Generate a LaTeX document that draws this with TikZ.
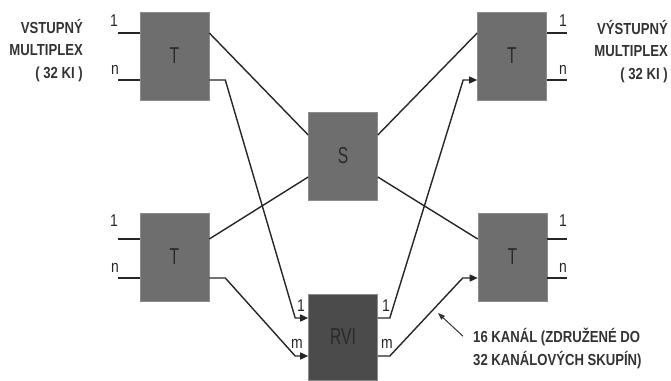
\documentclass[tikz,border=0pt]{standalone}
\usepackage{fontspec}
\usepackage{xcolor}
\usepackage{tikz}
\usetikzlibrary{arrows.meta,positioning}
\setmainfont{Liberation Sans}[FakeStretch=0.82]
\newfontfamily\blockfont{Liberation Sans}[FakeStretch=0.68]
\definecolor{blockgray}{HTML}{6E6E6E}
\definecolor{rvigray}{HTML}{4B4B4B}
\definecolor{labelgray}{HTML}{2A2A2A}

\begin{document}
\begin{tikzpicture}[x=1pt, y=-1pt,
  block/.style={draw=black!45, line width=0.6pt, fill=blockgray, inner sep=0pt,
                minimum width=69pt, minimum height=88pt, text=labelgray,
                font=\blockfont\fontsize{23}{23}\selectfont},
  port/.style={inner sep=0pt, anchor=base, text=black!85,
               font=\fontsize{17}{17}\selectfont},
  title/.style={inner sep=0pt, text=black!80,
                font=\bfseries\fontsize{16}{22.5}\selectfont},
  wire/.style={line width=1.4pt, black!85},
  arr/.style={wire, -{Triangle[length=8pt, width=7pt]}}]
\useasboundingbox (0,0) rectangle (671,380);

\node[block] (tl) at (174.5,56) {T};
\node[block] (bl) at (174.5,257) {T};
\node[block] (sw) at (343,156) {S};
\node[block] (tr) at (512,56) {T};
\node[block] (br) at (512.5,257) {T};
\node[block, fill=rvigray, minimum height=86pt] (rvi) at (343,337) {RVI};

\node[title, align=right, anchor=base east] (inmux) at (83,78) {VSTUPNÝ\\MULTIPLEX\\( 32 KI )};
\node[title, align=right, anchor=base east] (outmux) at (668,79) {VÝSTUPNÝ\\MULTIPLEX\\( 32 KI )};
\node[title, align=left, anchor=base west] (note) at (473,365) {16 KANÁL (ZDRUŽENÉ DO\\32 KANÁLOVÝCH SKUPÍN)};

\coordinate (tl-in1) at (118,33);
\coordinate (tl-inn) at (118,80);
\coordinate (bl-in1) at (118,239);
\coordinate (bl-inn) at (118,278);
\coordinate (tr-out1) at (567,33);
\coordinate (tr-outn) at (567,80);
\coordinate (br-out1) at (567,239);
\coordinate (br-outn) at (567,278);
\coordinate (hint) at (438,313);

\draw[wire] (tl-in1) -- (tl-in1 -| tl.west);
\draw[wire] (tl-inn) -- (tl-inn -| tl.west);
\draw[wire] (bl-in1) -- (bl-in1 -| bl.west);
\draw[wire] (bl-inn) -- (bl-inn -| bl.west);
\draw[wire] (tr-out1 -| tr.east) -- (tr-out1);
\draw[wire] (tr-outn -| tr.east) -- (tr-outn);
\draw[wire] (br-out1 -| br.east) -- (br-out1);
\draw[wire] (br-outn -| br.east) -- (br-outn);

\node[port] at (114,26) {1};
\node[port] at (115,74) {n};
\node[port] at (114,226) {1};
\node[port] at (115,272) {n};
\node[port] at (563,26) {1};
\node[port] at (563,74) {n};
\node[port] at (563,226) {1};
\node[port] at (563,272) {n};
\node[port] at (301,311) {1};
\node[port] at (297,348) {m};
\node[port] at (386,311) {1};
\node[port] at (387,348) {m};

\draw[wire] ([yshift=23pt]tl.east) -- ([yshift=21pt]sw.west);
\draw[wire] ([yshift=18pt]bl.east) -- ([yshift=-21pt]sw.west);
\draw[wire] ([yshift=21pt]sw.east) -- ([yshift=23pt]tr.west);
\draw[wire] ([yshift=-21pt]sw.east) -- ([yshift=18pt]br.west);

\draw[arr] ([yshift=-24pt]tl.east) -- ++(16,0) -- ([xshift=-13pt,yshift=19pt]rvi.west) -- ([yshift=19pt]rvi.west);
\draw[arr] ([yshift=-21pt]bl.east) -- ++(16,0) -- ([xshift=-13pt,yshift=-19pt]rvi.west) -- ([yshift=-19pt]rvi.west);
\draw[arr] ([yshift=19pt]rvi.east) -- ++(12,0) -- ([xshift=-14pt,yshift=-24pt]tr.west) -- ([yshift=-24pt]tr.west);
\draw[arr] ([yshift=-19pt]rvi.east) -- ++(12,0) -- ([xshift=-15pt,yshift=-21pt]br.west) -- ([yshift=-21pt]br.west);

\draw[line width=1pt, black!80, -{Triangle[length=7pt, width=5pt]}] ([shift={(-10pt,12pt)}]note.west) -- (hint);
\end{tikzpicture}
\end{document}
